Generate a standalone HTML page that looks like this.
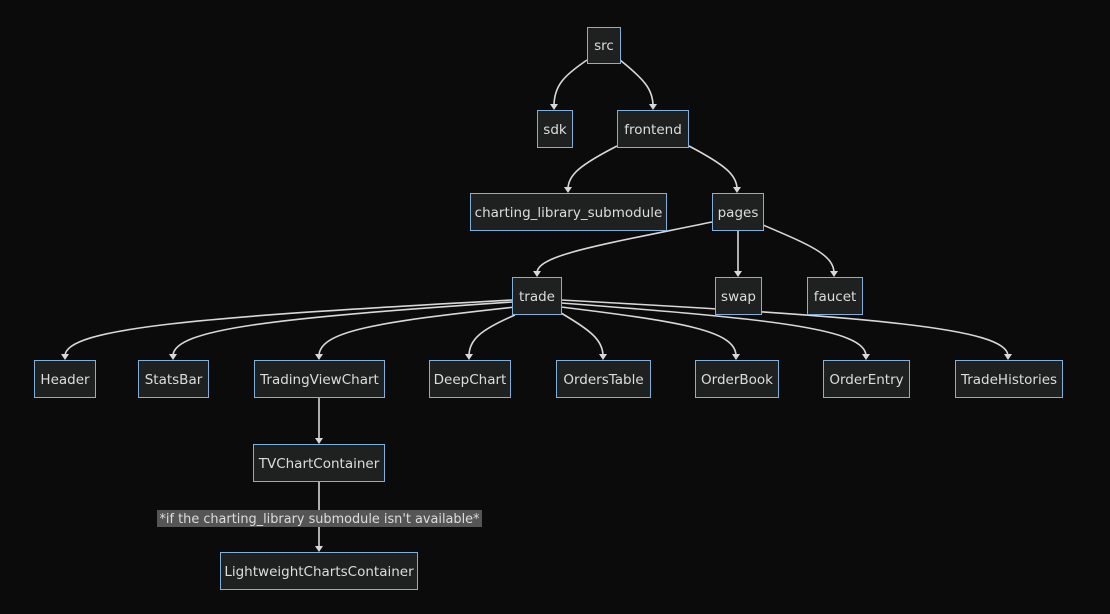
<!DOCTYPE html>
<html><head><meta charset="utf-8"><style>
html,body{margin:0;padding:0;background:#0b0b0b;}
svg{display:block}
text{font-family:"DejaVu Sans","Liberation Sans",sans-serif;font-size:13.5px;fill:#ddd;}
.n{fill:#1f2020;stroke:#81b1db;stroke-width:1}
.e{fill:none;stroke:#d8d8d8;stroke-width:1.6}
.a{fill:#d8d8d8}
</style></head><body>
<svg width="1110" height="614" viewBox="0 0 1110 614">
<rect width="1110" height="614" fill="#0b0b0b"/>
<g>
<path class="e" d="M587,60 C565,75 554,85 554,106"/>
<path class="e" d="M620,60 C645,80 653,90 653,106"/>
<path class="e" d="M617,146 C580,165 568,175 568,189"/>
<path class="e" d="M689,146 C725,165 737,175 737,189"/>
<path class="e" d="M712,222 C600,245 537,255 537,273"/>
<path class="e" d="M738,231 L738,273"/>
<path class="e" d="M763,225 C810,245 834,255 834,273"/>
<path class="e" d="M512,300 C199,317 65,328 65,356"/>
<path class="e" d="M512,302 C275,318 173,329 173,356"/>
<path class="e" d="M515,307 C378,322 319,331 319,356"/>
<path class="e" d="M515,315 C480,330 469,340 469,356"/>
<path class="e" d="M561,313 C590,330 603,340 603,356"/>
<path class="e" d="M561,307 C684,322 736,331 736,356"/>
<path class="e" d="M561,303 C774,319 866,329 866,356"/>
<path class="e" d="M561,300 C874,317 1008,328 1008,356"/>
<path class="e" d="M319,398 L319,440"/>
<path class="e" d="M319,482 L319,548"/>
</g>
<g>
<polygon class="a" points="550,104 558,104 554,110"/>
<polygon class="a" points="649,104 657,104 653,110"/>
<polygon class="a" points="564,187 572,187 568,193"/>
<polygon class="a" points="733,187 741,187 737,193"/>
<polygon class="a" points="533,271 541,271 537,277"/>
<polygon class="a" points="734,271 742,271 738,277"/>
<polygon class="a" points="830,271 838,271 834,277"/>
<polygon class="a" points="61,354 69,354 65,360"/>
<polygon class="a" points="169,354 177,354 173,360"/>
<polygon class="a" points="315,354 323,354 319,360"/>
<polygon class="a" points="465,354 473,354 469,360"/>
<polygon class="a" points="599,354 607,354 603,360"/>
<polygon class="a" points="732,354 740,354 736,360"/>
<polygon class="a" points="862,354 870,354 866,360"/>
<polygon class="a" points="1004,354 1012,354 1008,360"/>
<polygon class="a" points="315,438 323,438 319,444"/>
<polygon class="a" points="315,546 323,546 319,552"/>
</g>
<g>
<rect class="n" x="587.5" y="27.5" width="33" height="36"/><text x="604" y="50" text-anchor="middle">src</text>
<rect class="n" x="537.5" y="110.5" width="35" height="37"/><text x="555" y="134" text-anchor="middle">sdk</text>
<rect class="n" x="617.5" y="110.5" width="71" height="37"/><text x="653" y="134" text-anchor="middle">frontend</text>
<rect class="n" x="470.5" y="193.5" width="196" height="37"/><text x="568.5" y="217" text-anchor="middle">charting_library_submodule</text>
<rect class="n" x="712.5" y="193.5" width="51" height="37"/><text x="738" y="217" text-anchor="middle">pages</text>
<rect class="n" x="512.5" y="277.5" width="49" height="37"/><text x="537" y="301" text-anchor="middle">trade</text>
<rect class="n" x="715.5" y="277.5" width="46" height="37"/><text x="738.5" y="301" text-anchor="middle">swap</text>
<rect class="n" x="807.5" y="277.5" width="55" height="37"/><text x="835" y="301" text-anchor="middle">faucet</text>
<rect class="n" x="34.5" y="360.5" width="61" height="37"/><text x="65" y="384" text-anchor="middle">Header</text>
<rect class="n" x="138.5" y="360.5" width="70" height="37"/><text x="173.5" y="384" text-anchor="middle">StatsBar</text>
<rect class="n" x="254.5" y="360.5" width="130" height="37"/><text x="319.5" y="384" text-anchor="middle">TradingViewChart</text>
<rect class="n" x="429.5" y="360.5" width="81" height="37"/><text x="470" y="384" text-anchor="middle">DeepChart</text>
<rect class="n" x="556.5" y="360.5" width="94" height="37"/><text x="603.5" y="384" text-anchor="middle">OrdersTable</text>
<rect class="n" x="695.5" y="360.5" width="83" height="37"/><text x="737" y="384" text-anchor="middle">OrderBook</text>
<rect class="n" x="823.5" y="360.5" width="86" height="37"/><text x="866.5" y="384" text-anchor="middle">OrderEntry</text>
<rect class="n" x="955.5" y="360.5" width="107" height="37"/><text x="1009" y="384" text-anchor="middle">TradeHistories</text>
<rect class="n" x="253.5" y="444.5" width="131" height="37"/><text x="319" y="468" text-anchor="middle">TVChartContainer</text>
<rect x="157" y="510" width="325" height="17" fill="#555"/>
<text x="159.5" y="523" textLength="320" lengthAdjust="spacingAndGlyphs">*if the charting_library submodule isn't available*</text>
<rect class="n" x="220.5" y="552.5" width="197" height="37"/><text x="319" y="576" text-anchor="middle">LightweightChartsContainer</text>
</g>
</svg>
</body></html>
